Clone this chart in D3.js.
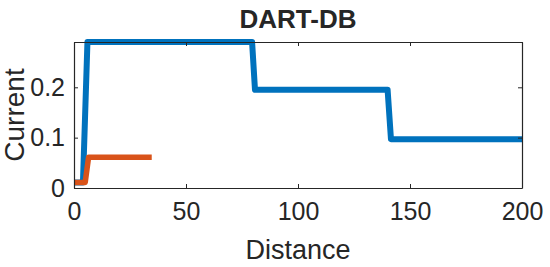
<!DOCTYPE html>
<html><head><meta charset="utf-8">
<script src="https://cdn.jsdelivr.net/npm/d3@7"></script>
<style>body{margin:0;background:#fff}svg{display:block}text{font-family:Arial,"Liberation Sans",sans-serif;fill:#262626}</style>
</head><body>
<script>
const title = "DART-DB";
const xLabel = "Distance";
const yLabel = "Current";
const xTicks = [0, 50, 100, 150, 200];
const yTicks = [0, 0.1, 0.2];
const blueX = [0, 4, 6, 79.5, 80.8, 140, 141.5, 200];
const blueY = [0.011, 0.011, 0.29, 0.29, 0.195, 0.195, 0.097, 0.097];
const orangeX = [0, 5, 6.5, 34.7];
const orangeY = [0.011, 0.011, 0.061, 0.061];

const W = 550, H = 267;
const m = {left: 74, right: 28, top: 42, bottom: 79};
const svg = d3.select("body").append("svg").attr("width", W).attr("height", H);
const x = d3.scaleLinear().domain([0, 200]).range([m.left, W - m.right]);
const y = d3.scaleLinear().domain([0, 0.29]).range([H - m.bottom, m.top]);

const line = d3.line().x(d => x(d[0])).y(d => y(d[1]));

const g = svg.append("g");
g.append("path").datum(blueX.map((v,i)=>[v, blueY[i]])).attr("d", line)
  .attr("fill","none").attr("stroke","#0072BD").attr("stroke-width",6).attr("stroke-linejoin","round");
g.append("path").datum(orangeX.map((v,i)=>[v, orangeY[i]])).attr("d", line)
  .attr("fill","none").attr("stroke","#D95319").attr("stroke-width",5.5).attr("stroke-linejoin","round");

// axes (MATLAB style: inward ticks, box)
const axB = d3.axisBottom(x).tickValues(xTicks).tickSizeInner(-4).tickSizeOuter(0).tickPadding(14).tickFormat(d3.format("d"));
const axL = d3.axisLeft(y).tickValues(yTicks).tickSizeInner(-4).tickSizeOuter(0).tickPadding(9).tickFormat(d => d === 0 ? "0" : d3.format(".1f")(d));
const axT = d3.axisTop(x).tickValues(xTicks).tickSizeInner(-4).tickSizeOuter(0).tickFormat("");
const axR = d3.axisRight(y).tickValues(yTicks).tickSizeInner(-4).tickSizeOuter(0).tickFormat("");

function style(sel){
  sel.selectAll("path").attr("stroke","#262626").attr("stroke-width",1.2);
  sel.selectAll("line").attr("stroke","#262626").attr("stroke-width",1);
  sel.selectAll("text").attr("font-size",25).attr("fill","#262626");
}
svg.append("g").attr("transform",`translate(0,${y(0)})`).call(axB).call(style);
svg.append("g").attr("transform",`translate(${x(0)},0)`).call(axL).call(style);
svg.append("g").attr("transform",`translate(0,${y(0.29)})`).call(axT).call(style);
svg.append("g").attr("transform",`translate(${x(200)},0)`).call(axR).call(style);

svg.append("text").attr("x", (x(0)+x(200))/2).attr("y", 28).attr("text-anchor","middle")
  .attr("font-size",26).attr("font-weight","bold").attr("fill","#000").text(title);
svg.append("text").attr("x", (x(0)+x(200))/2).attr("y", 259).attr("text-anchor","middle")
  .attr("font-size",27).text(xLabel);
svg.append("text").attr("transform",`translate(24,${(y(0)+y(0.29))/2}) rotate(-90)`).attr("text-anchor","middle")
  .attr("font-size",28).text(yLabel);
</script>
</body></html>
